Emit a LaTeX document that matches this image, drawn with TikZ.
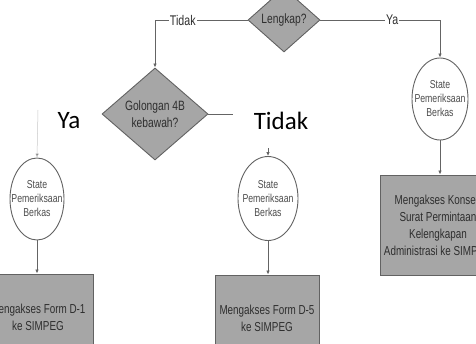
\documentclass[tikz,border=0pt]{standalone}
\usepackage{fontspec}
\usetikzlibrary{shapes.geometric,arrows.meta}
\newfontfamily\narrowsf[FakeStretch=0.76]{Liberation Sans}
\newfontfamily\calibrisf{Carlito}
\definecolor{shapefill}{HTML}{A6A6A6}
\definecolor{shapeline}{HTML}{626262}
\definecolor{wire}{HTML}{646464}
\definecolor{inktext}{HTML}{2E2E2E}
\tikzset{
  decision/.style={diamond, draw=shapeline, fill=shapefill, line width=0.9pt, inner sep=0pt},
  statenode/.style={ellipse, draw=shapeline, fill=white, line width=0.9pt, inner sep=0pt},
  actionbox/.style={rectangle, draw=shapeline, fill=shapefill, line width=0.9pt, inner sep=0pt,
    align=center, text=inktext, font=\narrowsf\fontsize{13}{17}\selectfont},
  difftext/.style={align=center, text=inktext, font=\narrowsf\fontsize{13.5}{17}\selectfont},
  statetext/.style={align=center, text=inktext!85, font=\narrowsf\fontsize{11.5}{14}\selectfont},
  conn/.style={draw=wire, line width=0.9pt, -{Latex[length=4pt,width=3.5pt,fill=black!80]}},
  plainconn/.style={draw=wire, line width=0.9pt},
  faintconn/.style={draw=black!22, line width=0.5pt, -{Latex[length=4pt,width=3.5pt,fill=black!75]}},
  linelabel/.style={fill=white, inner sep=1pt, text=inktext, font=\narrowsf\fontsize{14}{16}\selectfont},
  biglabel/.style={text=black, font=\calibrisf\fontsize{25}{28}\selectfont}
}
\begin{document}
\begin{tikzpicture}[x=1pt,y=-1pt]
\useasboundingbox (0,0) rectangle (476,343);

% decisions
\node[decision, minimum width=72pt, minimum height=64pt,
  label={[difftext]center:Lengkap?}] (d1) at (284,20) {};
\node[decision, minimum width=106pt, minimum height=92pt,
  label={[difftext]center:Golongan 4B\\kebawah?}] (d2) at (155,114) {};

% states
\node[statenode, minimum width=54pt, minimum height=82pt,
  label={[statetext]center:State\\Pemeriksaan\\Berkas}] (e1) at (37,199) {};
\node[statenode, minimum width=60pt, minimum height=84pt,
  label={[statetext]center:State\\Pemeriksaan\\Berkas}] (e2) at (268,198.5) {};
\node[statenode, minimum width=56pt, minimum height=82pt,
  label={[statetext]center:State\\Pemeriksaan\\Berkas}] (e3) at (440,99) {};

% actions
\node[actionbox, minimum width=110pt, minimum height=86pt] (b1) at (38,317) {Mengakses Form D-1\\ke SIMPEG};
\node[actionbox, minimum width=104pt, minimum height=86pt] (b2) at (267,318) {Mengakses Form D-5\\ke SIMPEG};
\node[actionbox, minimum width=116pt, minimum height=100pt] (b3) at (438,225) {Mengakses Konsep\\Surat Permintaan\\Kelengkapan\\Administrasi ke SIMPEG};

% loose ends of the second decision
\coordinate (tidakEnd) at (233,114);
\coordinate (yaStart) at (38,110);
\coordinate (tdkStart) at (268,148);

% connectors
\draw[conn] (d1.west) -| node[linelabel, pos=0.35] {Tidak} (d2.north);
\draw[conn] (d1.east) -| node[linelabel, pos=0.30] {Ya} (e3.north);
\draw[plainconn] (d2.east) -- (tidakEnd);
\draw[faintconn] (yaStart) -- (e1.north);
\draw[conn] (tdkStart) -- (e2.north);
\draw[conn] (e1.south) -- (e1.south |- b1.north);
\draw[conn] (e2.south) -- (e2.south |- b2.north);
\draw[conn] (e3.south) -- (e3.south |- b3.north);

% branch labels
\node[biglabel] (ya) at (69,121) {Ya};
\node[biglabel] (tidak) at (281,121) {Tidak};
\end{tikzpicture}
\end{document}
